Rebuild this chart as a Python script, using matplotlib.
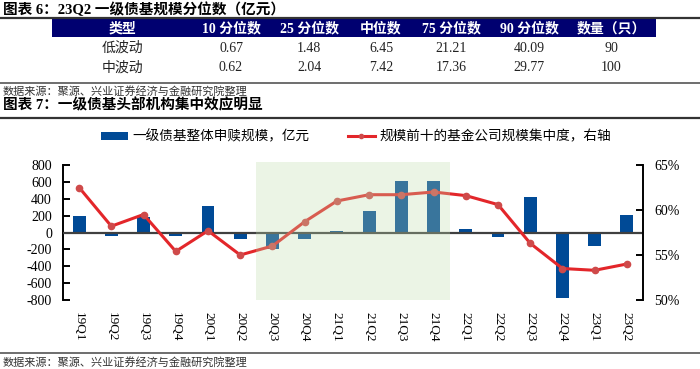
import matplotlib
matplotlib.use("Agg")
import matplotlib.pyplot as plt
from matplotlib.lines import Line2D
from matplotlib.patches import Rectangle, Patch
import matplotlib.transforms as mtransforms

plt.rcParams['font.family'] = ['Liberation Serif', 'Noto Sans CJK SC', 'DejaVu Sans']
plt.rcParams['axes.unicode_minus'] = False

# table 6
tbl_header = ['类型', '10 分位数', '25 分位数', '中位数', '75 分位数', '90 分位数', '数量（只）']
tbl_rows = [
    ['低波动', '0.67', '1.48', '6.45', '21.21', '40.09', '90'],
    ['中波动', '0.62', '2.04', '7.42', '17.36', '29.77', '100'],
]

# chart 7
quarters = ['19Q1', '19Q2', '19Q3', '19Q4', '20Q1', '20Q2', '20Q3', '20Q4', '21Q1',
            '21Q2', '21Q3', '21Q4', '22Q1', '22Q2', '22Q3', '22Q4', '23Q1', '23Q2']
flows = [190, -45, 185, -43, 320, -75, -197, -79, 16,
         252, 607, 611, 43, -59, 425, -780, -162, 213]
conc = [62.5, 58.2, 59.5, 55.4, 57.7, 55.0, 56.0, 58.7, 61.0,
        61.7, 61.7, 62.0, 61.6, 60.6, 56.3, 53.5, 53.3, 54.0]
shade = ('20Q3', '21Q4')

W, H = 700, 369
fig = plt.figure(figsize=(7, 3.69), dpi=100)


def fx(x):
    return x / W


def fy(y):
    return 1 - y / H


def hline(y, color, lw):
    fig.add_artist(Line2D([0, 1], [fy(y), fy(y)], transform=fig.transFigure, color=color, lw=lw))


navy = '#000070'
src = '数据来源：聚源、兴业证券经济与金融研究院整理'

# ---- table part
fig.text(fx(3), fy(10), '图表 6：23Q2 一级债基规模分位数（亿元）', fontsize=10.5, fontweight='bold', va='center')
hline(18, '#333333', 1.6)
fig.add_artist(Rectangle((fx(52), fy(36.5)), fx(656 - 52), 17 / H, transform=fig.transFigure,
                         facecolor=navy, edgecolor='none'))
col_x = [122, 231, 309, 381, 451, 529, 611]
for cx, t in zip(col_x, tbl_header):
    fig.text(fx(cx), fy(28.5), t, fontsize=10, fontweight='bold', color='white', ha='center', va='center')
for ry, row in zip([48, 67.5], tbl_rows):
    for cx, t in zip(col_x, row):
        fig.text(fx(cx), fy(ry), t, fontsize=10, ha='center', va='center', color='#222222')
hline(83, '#555555', 1.2)
fig.text(fx(3), fy(91), src, fontsize=8, va='center', color='#333333')

# ---- chart part
fig.text(fx(3), fy(105), '图表 7：一级债基头部机构集中效应明显', fontsize=10.5, fontweight='bold', va='center')
hline(117.5, '#333333', 1.6)

ax = fig.add_axes([fx(63), fy(300), fx(580), 135 / H])
ax2 = ax.twinx()
x = range(len(quarters))

bar_color = '#004A96'
red = '#E3262A'
ax.bar(x, flows, width=0.4, color=bar_color, zorder=2)
ax.axhline(0, color='#404040', lw=1.6, zorder=3)
ax.set_xlim(-0.5, len(quarters) - 0.5)
ax.set_ylim(-800, 800)
ax.set_yticks(range(-800, 801, 200))
ax.set_xticks(list(x))
ax.set_xticklabels(quarters, rotation=-90, fontsize=9.5)
ax.tick_params(axis='x', length=0, pad=9)
ax.tick_params(axis='y', direction='in', length=5, width=1.4, labelsize=10, pad=8)

ax2.plot(x, conc, color=red, lw=2.2, marker='o', markersize=4.5,
         markerfacecolor='#CF4A4A', markeredgecolor='#CF4A4A', zorder=4)
ax2.set_ylim(50, 65)
ax2.set_yticks([50, 55, 60, 65])
ax2.set_yticklabels(['%d%%' % v for v in [50, 55, 60, 65]])
ax2.tick_params(axis='y', direction='in', length=5, width=1.4, labelsize=10, pad=8)

for a in (ax, ax2):
    a.spines['top'].set_visible(False)
    a.spines['bottom'].set_visible(False)
    a.spines['left'].set_linewidth(1.4)
    a.spines['right'].set_linewidth(1.4)
ax.spines['right'].set_visible(False)
ax2.spines['left'].set_visible(False)

# shaded period on top of everything
i0, i1 = quarters.index(shade[0]), quarters.index(shade[1])
trans = mtransforms.blended_transform_factory(ax2.transData, ax2.transAxes)
ax2.add_patch(Rectangle((i0 - 0.5, 0), i1 - i0 + 1, 1.025, transform=trans,
                        facecolor=(0.75, 0.86, 0.67), alpha=0.3, edgecolor='none',
                        clip_on=False, zorder=5))

handles = [Patch(facecolor=bar_color, edgecolor='none'),
           Line2D([], [], color=red, lw=2.2, marker='o', markersize=3,
                  markerfacecolor='#CF4A4A', markeredgecolor='#CF4A4A')]
labels = ['一级债基整体申赎规模，亿元', '规模前十的基金公司规模集中度，右轴']
fig.legend(handles, labels, loc='center', bbox_to_anchor=(fx(356), fy(137)), ncol=2,
           frameon=False, fontsize=9.8, handlelength=2.0, handleheight=0.6,
           handletextpad=0.3, columnspacing=2.8)

hline(352.5, '#555555', 1.2)
fig.text(fx(3), fy(362), src, fontsize=8, va='center', color='#333333')

fig.savefig('out.png', dpi=100)
